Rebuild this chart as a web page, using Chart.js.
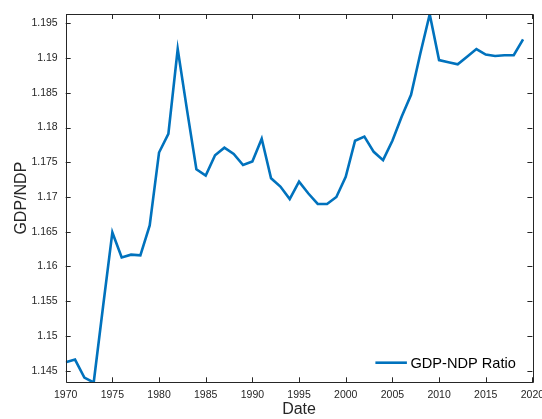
<!DOCTYPE html>
<html>
<head>
  <title>GDP/NDP Ratio</title>
  <style>
    body { margin: 0; background: #fff; }
    #wrap { width: 542px; height: 419px; }
  </style>
  <script src="https://cdn.jsdelivr.net/npm/chart.js"></script>
</head>
<body>
  <div id="wrap"><canvas id="chart"></canvas></div>
  <script>
    const years = [];
    for (let y = 1970; y <= 2019; y++) years.push(y);
    const ratio = [
      1.1462, 1.1466, 1.1440, 1.1433, 1.1542, 1.1649, 1.1613, 1.1617, 1.1616, 1.1659,
      1.1764, 1.1791, 1.1913, 1.1825, 1.1740, 1.1731, 1.1760, 1.1771, 1.1762, 1.1746,
      1.1751, 1.1784, 1.1727, 1.1715, 1.1697, 1.1722, 1.1705, 1.1690, 1.1690, 1.1700,
      1.1729, 1.1781, 1.1787, 1.1765, 1.1753, 1.1781, 1.1816, 1.1847, 1.1907, 1.1963,
      1.1897, 1.1894, 1.1891, 1.1902, 1.1913, 1.1905, 1.1903, 1.1904, 1.1904, 1.1927
    ];
    const xTicks = [1970, 1975, 1980, 1985, 1990, 1995, 2000, 2005, 2010, 2015, 2020];
    const yTicks = [1.145, 1.15, 1.155, 1.16, 1.165, 1.17, 1.175, 1.18, 1.185, 1.19, 1.195];

    const axisColor = '#262626';
    const font = 'Liberation Sans, Arial, sans-serif';

    // inward ticks on all four sides + box, and the legend in the lower right
    const matlabBox = {
      id: 'matlabBox',
      afterDraw(chart) {
        const {ctx, chartArea: a, scales} = chart;
        ctx.save();
        ctx.strokeStyle = axisColor;
        ctx.lineWidth = 1;
        ctx.beginPath();
        ctx.rect(Math.round(a.left) + 0.5, Math.round(a.top) + 0.5,
                 Math.round(a.right - a.left), Math.round(a.bottom - a.top));
        const len = 5;
        xTicks.forEach(v => {
          const px = Math.round(scales.x.getPixelForValue(v)) + 0.5;
          ctx.moveTo(px, a.bottom); ctx.lineTo(px, a.bottom - len);
          ctx.moveTo(px, a.top); ctx.lineTo(px, a.top + len);
        });
        yTicks.forEach(v => {
          const py = Math.round(scales.y.getPixelForValue(v)) + 0.5;
          ctx.moveTo(a.left, py); ctx.lineTo(a.left + len, py);
          ctx.moveTo(a.right, py); ctx.lineTo(a.right - len, py);
        });
        ctx.stroke();

        // legend
        const ds = chart.data.datasets[0];
        const ly = a.bottom - 19.6;
        const lx = a.right - 157;
        ctx.strokeStyle = ds.borderColor;
        ctx.lineWidth = ds.borderWidth;
        ctx.beginPath();
        ctx.moveTo(lx, ly); ctx.lineTo(lx + 31.5, ly);
        ctx.stroke();
        ctx.fillStyle = '#000';
        ctx.font = '14.6px ' + font;
        ctx.textBaseline = 'middle';
        ctx.fillText(ds.label, lx + 35, ly + 1.5);
        ctx.restore();
      }
    };

    new Chart(document.getElementById('chart'), {
      type: 'line',
      data: {
        labels: years,
        datasets: [{
          label: 'GDP-NDP Ratio',
          data: years.map((y, i) => ({x: y, y: ratio[i]})),
          borderColor: '#0072BD',
          borderWidth: 2.6,
          pointRadius: 0,
          tension: 0,
          fill: false
        }]
      },
      options: {
        responsive: true,
        maintainAspectRatio: false,
        animation: false,
        layout: { padding: { top: 14, right: 9.6, left: 0, bottom: 0 } },
        plugins: { legend: { display: false }, tooltip: { enabled: false } },
        scales: {
          x: {
            type: 'linear',
            min: 1970,
            max: 2020,
            afterBuildTicks: s => { s.ticks = xTicks.map(v => ({value: v})); },
            afterFit: s => { s.height = 36.7; s.paddingLeft = 0; s.paddingRight = 0; },
            grid: { display: false, drawTicks: false },
            border: { display: false },
            ticks: {
              color: axisColor,
              font: { family: font, size: 10.5 },
              padding: 7,
              maxRotation: 0,
              autoSkip: false,
              callback: v => String(v)
            },
            title: {
              display: true,
              text: 'Date',
              color: axisColor,
              font: { family: font, size: 16 },
              padding: { top: 0, bottom: 0 }
            }
          },
          y: {
            min: 1.14333,
            max: 1.19634,
            afterBuildTicks: s => { s.ticks = yTicks.map(v => ({value: v})); },
            afterFit: s => { s.width = 65.7; s.paddingTop = 0; s.paddingBottom = 0; },
            grid: { display: false, drawTicks: false },
            border: { display: false },
            ticks: {
              color: axisColor,
              font: { family: font, size: 10.5 },
              padding: 8,
              autoSkip: false,
              callback: v => String(+v.toFixed(3))
            },
            title: {
              display: true,
              text: 'GDP/NDP',
              color: axisColor,
              font: { family: font, size: 16 },
              padding: { top: 12, bottom: 0 }
            }
          }
        }
      },
      plugins: [matlabBox]
    });
  </script>
</body>
</html>
